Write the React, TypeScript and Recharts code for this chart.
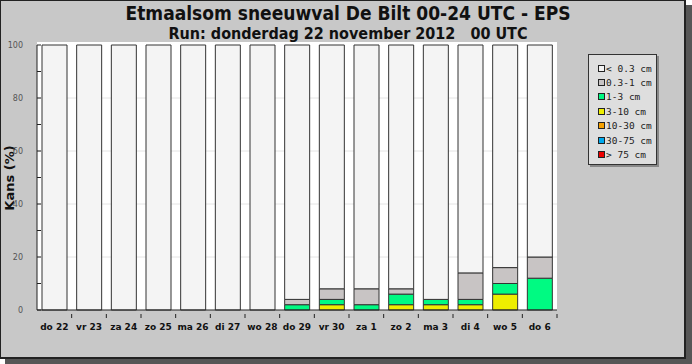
import React from 'react';
import { BarChart, Bar, XAxis, YAxis, CartesianGrid } from 'recharts';

const days = ['do 22', 'vr 23', 'za 24', 'zo 25', 'ma 26', 'di 27', 'wo 28', 'do 29', 'vr 30', 'za 1', 'zo 2', 'ma 3', 'di 4', 'wo 5', 'do 6'];

// kans (%) per klasse sneeuwval
const lt03 = [100, 100, 100, 100, 100, 100, 100, 96, 92, 92, 92, 96, 86, 84, 80];
const s03to1 = [0, 0, 0, 0, 0, 0, 0, 2, 4, 6, 2, 0, 10, 6, 8];
const s1to3 = [0, 0, 0, 0, 0, 0, 0, 2, 2, 2, 4, 2, 2, 4, 12];
const s3to10 = [0, 0, 0, 0, 0, 0, 0, 0, 2, 0, 2, 2, 2, 6, 0];
const s10to30 = [0, 0, 0, 0, 0, 0, 0, 0, 0, 0, 0, 0, 0, 0, 0];
const s30to75 = [0, 0, 0, 0, 0, 0, 0, 0, 0, 0, 0, 0, 0, 0, 0];
const gt75 = [0, 0, 0, 0, 0, 0, 0, 0, 0, 0, 0, 0, 0, 0, 0];

const yTicks = [0, 10, 20, 30, 40, 50, 60, 70, 80, 90, 100];
const gridLines = [20, 40, 60, 80];

// legend order top -> bottom
const legendKeys = ['lt03', 's03to1', 's1to3', 's3to10', 's10to30', 's30to75', 'gt75'];
const legendLabels = ['< 0.3 cm', '0.3-1 cm', '1-3 cm', '3-10 cm', '10-30 cm', '30-75 cm', '> 75 cm'];
const legendColors = ['#f4f4f4', '#c8c4c4', '#00fa82', '#eeee00', '#f5a000', '#00aaee', '#ee0000'];

const data = days.map((day, i) => ({
    day,
    lt03: lt03[i],
    s03to1: s03to1[i],
    s1to3: s1to3[i],
    s3to10: s3to10[i],
    s10to30: s10to30[i],
    s30to75: s30to75[i],
    gt75: gt75[i],
}));

const PLOT_LEFT = 37;
const PLOT_RIGHT = 557;
const BAND = (PLOT_RIGHT - PLOT_LEFT) / days.length;

const YTick = ({ y, payload }: any) => (
    <g>
        <line x1={PLOT_LEFT} x2={PLOT_LEFT + 4} y1={y} y2={y} stroke="#222" />
        {payload.value % 20 === 0 && (
            <text x={23} y={y} dy={3} textAnchor="end" fontSize={8} fill="#555" fontFamily="DejaVu Sans, sans-serif">
                {payload.value}
            </text>
        )}
    </g>
);

const XTick = ({ x, y, payload }: any) => (
    <g>
        <line x1={x + BAND / 2} x2={x + BAND / 2} y1={y - 4} y2={y} stroke="#222" />
        <text x={x} y={y + 12} textAnchor="middle" fontSize={9} fontWeight="bold" fill="#111" fontFamily="DejaVu Sans, sans-serif">
            {payload.value}
        </text>
    </g>
);

function SnowLegend() {
    return (
        <div
            style={{
                position: 'absolute',
                left: 588,
                top: 54,
                width: 69,
                height: 111,
                boxSizing: 'border-box',
                background: '#dedede',
                border: '1px solid #333',
                boxShadow: '2px 2px 0 #888',
                paddingTop: 6,
                paddingLeft: 9,
            }}
        >
            {legendKeys.map((k, i) => (
                <div key={k} style={{ display: 'flex', alignItems: 'center', height: 14.4 }}>
                    <span
                        style={{
                            boxSizing: 'border-box',
                            width: 7,
                            height: 7,
                            background: legendColors[i],
                            border: '1px solid #222',
                            marginRight: 1,
                            flexShrink: 0,
                        }}
                    />
                    <span style={{ fontFamily: 'DejaVu Sans Mono, monospace', fontSize: 9.5, color: '#222', whiteSpace: 'pre' }}>
                        {legendLabels[i]}
                    </span>
                </div>
            ))}
        </div>
    );
}

export default function App() {
    return (
        <div style={{ position: 'absolute', left: 0, top: 0, width: 692, height: 364 }}>
            {/* schaduw + paneel */}
            <div style={{ position: 'absolute', left: 5, top: 5, width: 687, height: 359, background: '#565656' }} />
            <div
                style={{
                    position: 'absolute',
                    left: 0,
                    top: 0,
                    width: 686,
                    height: 359,
                    boxSizing: 'border-box',
                    background: '#c8c8c8',
                    borderLeft: '1px solid #222',
                    borderTop: '1px solid #222',
                    borderRight: '2px solid #222',
                    borderBottom: '2px solid #222',
                }}
            />
            <div style={{ position: 'absolute', left: PLOT_LEFT, top: 42, width: PLOT_RIGHT - PLOT_LEFT, height: 268, background: '#fff' }} />

            <div
                style={{
                    position: 'absolute',
                    left: 98,
                    top: 1,
                    width: 500,
                    textAlign: 'center',
                    fontFamily: 'DejaVu Sans Condensed, Liberation Sans Narrow, DejaVu Sans, sans-serif',
                    fontStretch: 'condensed',
                    fontWeight: 'bold',
                    fontSize: 19,
                    lineHeight: '24px',
                    color: '#111',
                }}
            >
                Etmaalsom sneeuwval De Bilt 00-24 UTC - EPS
            </div>
            <div
                style={{
                    position: 'absolute',
                    left: 98,
                    top: 24,
                    width: 500,
                    textAlign: 'center',
                    fontFamily: 'DejaVu Sans Condensed, Liberation Sans Narrow, DejaVu Sans, sans-serif',
                    fontStretch: 'condensed',
                    fontWeight: 'bold',
                    fontSize: 16,
                    lineHeight: '19px',
                    color: '#111',
                    whiteSpace: 'pre',
                }}
            >
                {'Run: donderdag 22 november 2012   00 UTC'}
            </div>
            <div
                style={{
                    position: 'absolute',
                    left: 9,
                    top: 178,
                    transform: 'translate(-50%, -50%) rotate(-90deg)',
                    whiteSpace: 'nowrap',
                    fontFamily: 'DejaVu Sans, sans-serif',
                    fontWeight: 'bold',
                    fontSize: 13,
                    color: '#111',
                }}
            >
                Kans (%)
            </div>

            <div style={{ position: 'absolute', left: 0, top: 0 }}>
                <BarChart width={692} height={364} data={data} margin={{ top: 45, right: 692 - PLOT_RIGHT, left: 0, bottom: 0 }} barSize={25}>
                    <CartesianGrid vertical={false} horizontalValues={gridLines} stroke="#e4e4e4" />
                    <XAxis dataKey="day" height={54} axisLine={{ stroke: '#222' }} tickLine={false} tick={<XTick />} interval={0} />
                    <YAxis width={PLOT_LEFT} domain={[0, 100]} ticks={yTicks} axisLine={{ stroke: '#222' }} tickLine={false} tick={<YTick />} />
                    {[...legendKeys].reverse().map((k) => {
                        const i = legendKeys.indexOf(k);
                        return (
                            <Bar key={k} dataKey={k} stackId="a" fill={legendColors[i]} stroke="#333" strokeWidth={1} isAnimationActive={false} />
                        );
                    })}
                </BarChart>
            </div>
            <SnowLegend />
        </div>
    );
}
